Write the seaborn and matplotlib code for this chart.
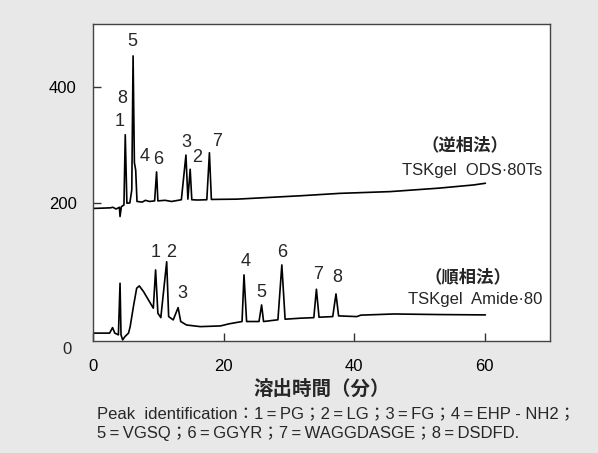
import numpy as np
import pandas as pd
import matplotlib
matplotlib.use("Agg")
import matplotlib.pyplot as plt
import seaborn as sns

# 逆相法 (TSKgel ODS-80Ts) trace
rp_time = [0.1, 2.6, 3.0, 3.5, 4.0, 4.1, 4.3, 4.7, 4.9, 5.15, 5.6, 5.9, 6.1, 6.3, 6.5, 6.7,
           7.5, 8.0, 8.6, 9.4, 9.7, 9.9, 11.0, 12.0, 13.5, 14.2, 14.5, 14.85, 15.1, 16.0,
           17.4, 17.8, 18.1, 22.0, 27.0, 32.0, 37.8, 45.5, 53.0, 58.3, 60.1]
rp_signal = [190, 191, 192, 189, 192, 176, 193, 196, 317, 199, 199.5, 222, 453, 269, 256, 202,
             201, 204, 202, 203, 253, 203, 204, 202, 205, 282, 206, 257.6, 205, 204.5,
             205, 286, 205.5, 206, 209, 212, 216, 219, 225, 230.5, 233.4]

# 順相法 (TSKgel Amide-80) trace
np_time = [0.1, 2.5, 2.95, 3.3, 3.85, 4.1, 4.25, 4.5, 4.85, 5.4, 5.65, 6.15, 6.65, 7.05, 7.7,
           8.45, 9.2, 9.55, 9.9, 10.35, 11.25, 11.55, 12.25, 13.0, 13.4, 14.3, 16.4, 19.5,
           20.8, 22.8, 23.1, 23.5, 25.4, 25.8, 26.1, 28.3, 28.9, 29.4, 31.7, 33.8, 34.2,
           34.6, 36.7, 37.2, 37.6, 40.4, 41.0, 46.1, 53.0, 60.1]
np_signal = [-25, -25, -15.5, -25, -28, 61, -28, -36.7, -31, -25, -14, 20.7, 52.4, 56.4, 46.6,
             32.3, 18, 84, 9.3, 1.7, 98, 3.5, -2.2, 19, -5, -11, -13.8, -12.6,
             -9, -5, 75.4, -5, -5, 23.6, -5, -2, 92.6, -1, 0.7, 1.7, 50.7,
             2.4, 3.5, 42.6, 4.7, 3.5, 6, 8, 7, 6.4]

# peak numbers and label positions
rp_labels = ["5", "8", "1", "4", "6", "3", "2", "7"]
rp_label_t = [6.0, 4.45, 3.99, 7.8, 10.0, 14.2, 15.95, 19.0]
rp_label_v = [477.6, 380, 339.6, 279, 273.6, 303.4, 277.6, 305]

np_labels = ["1", "2", "3", "4", "5", "6", "7", "8"]
np_label_t = [9.6, 11.9, 13.6, 23.3, 25.8, 29.0, 34.5, 37.4]
np_label_v = [114.5, 114.5, 43.8, 98.3, 45, 113.8, 75.4, 71.4]

x_ticks = [0, 20, 40, 60]
y_ticks = [200, 400]

df = pd.concat([
    pd.DataFrame({"t": rp_time, "v": rp_signal, "run": "rp"}),
    pd.DataFrame({"t": np_time, "v": np_signal, "run": "np"}),
])

sns.set_style("white")
plt.rcParams["font.family"] = ["Liberation Sans", "Noto Sans CJK JP", "DejaVu Sans"]

bg = "#e8e8e8"
fig = plt.figure(figsize=(5.98, 4.53), dpi=100, facecolor=bg)
ax = fig.add_axes([0.156, 0.248, 0.7637, 0.699])

sns.lineplot(data=df, x="t", y="v", units="run", estimator=None, sort=False,
             color="black", linewidth=1.2, ax=ax)

ax.set_xlim(0, 70)
ax.set_ylim(-38, 508)
ax.set_xticks(x_ticks)
ax.set_yticks(y_ticks)
ax.tick_params(direction="in", length=6, width=1, colors="#333333", labelsize=12,
               labelcolor="black", left=True, bottom=True)
ax.tick_params(axis="x", pad=13)
ax.tick_params(axis="y", pad=12)
for s in ax.spines.values():
    s.set_color("#444444")
    s.set_linewidth(1.0)

# "0" label sits at the bottom edge in the original scan
ax.text(-0.048, -0.028, "0", transform=ax.transAxes, ha="right", va="center", fontsize=12)

ax.set_xlabel("溶出時間（分）", fontsize=14, fontweight="bold", labelpad=4)
ax.set_ylabel("")

for lab, t, v in zip(rp_labels, rp_label_t, rp_label_v):
    ax.text(t, v, lab, ha="center", va="center", fontsize=13)
for lab, t, v in zip(np_labels, np_label_t, np_label_v):
    ax.text(t, v, lab, ha="center", va="center", fontsize=13)

ax.text(56.9, 300, "（逆相法）", ha="center", va="center", fontsize=12.5, fontweight="bold")
ax.text(68.8, 256, "TSKgel  ODS·80Ts", ha="right", va="center", fontsize=12)
ax.text(57.4, 71.4, "（順相法）", ha="center", va="center", fontsize=12.5, fontweight="bold")
ax.text(68.8, 33.5, "TSKgel  Amide·80", ha="right", va="center", fontsize=12)

ts = "\u2009"
line1 = f"Peak  identification：1{ts}={ts}PG；2{ts}={ts}LG；3{ts}={ts}FG；4{ts}={ts}EHP - NH2；"
line2 = f"5{ts}={ts}VGSQ；6{ts}={ts}GGYR；7{ts}={ts}WAGGDASGE；8{ts}={ts}DSDFD."
fig.text(0.162, 0.065, line1 + "\n" + line2,
         ha="left", va="center", fontsize=12, linespacing=1.35)

fig.savefig("out.png", dpi=100, facecolor=bg)
